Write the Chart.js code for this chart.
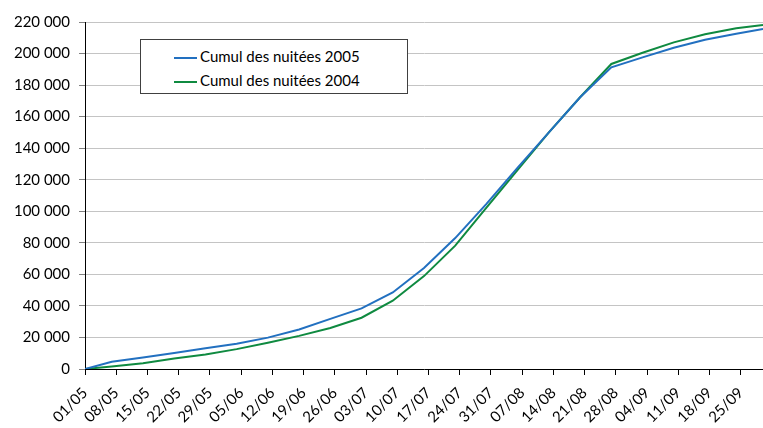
<!DOCTYPE html>
<html>
<head>
<meta charset="utf-8">
<script src="https://cdn.jsdelivr.net/npm/chart.js@4"></script>
<style>
  html, body { margin: 0; padding: 0; background: #fff; }
  #wrap { position: relative; width: 763px; height: 428px; }
  #legend {
    position: absolute; left: 140px; top: 39px; width: 266px; height: 53px;
    border: 1px solid #404040; background: #fff;
    font-family: Lato, sans-serif; font-size: 15px; color: #000;
  }
  #legend .item { position: absolute; left: 33px; height: 20px; line-height: 20px; }
  #legend .swatch { display: inline-block; width: 23px; height: 2px; vertical-align: middle; margin-right: 3px; }
</style>
</head>
<body>
<div id="wrap">
  <canvas id="chart" width="763" height="428"></canvas>
  <div id="legend"></div>
</div>
<script>
// days counted from 01/05
const days = [0, 6, 13, 20, 27, 34, 41, 48, 55, 62, 69, 76, 83, 90, 97, 104, 111, 118, 125, 132, 139, 146, 152];
const cumul2005 = [0, 4600, 7300, 10200, 13200, 16000, 19900, 25000, 31800, 38400, 48500, 64000, 83000, 104700, 127700, 150000, 172300, 191300, 197600, 203700, 208800, 212600, 215600];
const cumul2004 = [0, 1600, 3700, 6700, 9200, 12600, 16700, 21000, 26000, 32500, 43300, 58900, 78200, 102300, 126200, 150000, 172300, 193400, 200500, 207100, 212200, 216000, 218100];
const weekLabels = ['01/05', '08/05', '15/05', '22/05', '29/05', '05/06', '12/06', '19/06', '26/06', '03/07', '10/07',
  '17/07', '24/07', '31/07', '07/08', '14/08', '21/08', '28/08', '04/09', '11/09', '18/09', '25/09'];

const toPoints = (vals) => vals.map((v, i) => ({ x: days[i], y: v }));

const datasets = [
  { label: 'Cumul des nuitées 2005', data: toPoints(cumul2005), borderColor: '#2270c0' },
  { label: 'Cumul des nuitées 2004', data: toPoints(cumul2004), borderColor: '#0f8a40' },
];

const font = { family: 'Lato, sans-serif', size: 15 };

const chart = new Chart(document.getElementById('chart'), {
  type: 'line',
  data: {
    datasets: datasets.map(d => ({ ...d, borderWidth: 2, pointRadius: 0, tension: 0, fill: false })),
  },
  options: {
    responsive: false,
    animation: false,
    layout: { padding: { top: 22, right: 0, left: 0, bottom: 0 } },
    plugins: { legend: { display: false }, tooltip: { enabled: false } },
    scales: {
      x: {
        type: 'linear',
        min: 0,
        max: 152,
        afterBuildTicks: (scale) => {
          scale.ticks = weekLabels.map((l, i) => ({ value: i * 7 }));
        },
        afterFit: (scale) => { scale.height = 59; },
        ticks: {
          autoSkip: false,
          maxRotation: 45,
          minRotation: 45,
          padding: 9,
          color: '#000',
          font: font,
          callback: (v) => weekLabels[v / 7],
        },
        grid: { drawOnChartArea: false, tickLength: 6, color: '#000' },
        border: { color: '#000', width: 1 },
      },
      y: {
        min: 0,
        max: 220000,
        afterFit: (scale) => { scale.width = 85; },
        ticks: {
          stepSize: 20000,
          padding: 9,
          color: '#000',
          font: font,
          callback: (v) => String(v).replace(/\B(?=(\d{3})+(?!\d))/g, ' '),
        },
        grid: { color: '#c4c4c4', tickColor: '#808080', tickLength: 6 },
        border: { color: '#000', width: 1 },
      },
    },
  },
});

// legend inside the plot, as in the original
const legend = document.getElementById('legend');
datasets.forEach((d, i) => {
  const item = document.createElement('div');
  item.className = 'item';
  item.style.top = (6 + i * 24) + 'px';
  item.innerHTML = '<span class="swatch" style="background:' + d.borderColor + '"></span>' + d.label;
  legend.appendChild(item);
});
</script>
</body>
</html>
